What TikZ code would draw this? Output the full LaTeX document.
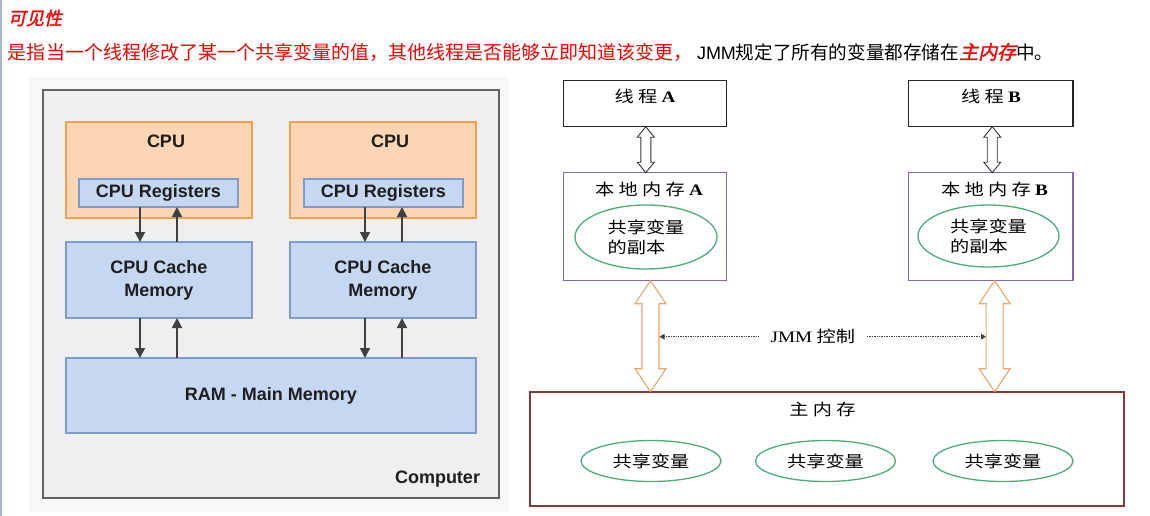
\documentclass[tikz,border=0pt]{standalone}
\usepackage{fontspec}
\setmainfont{Liberation Sans}
\newfontfamily\cjk{Noto Sans CJK SC}
\newfontfamily\cjkbi[FakeSlant=0.22,FakeBold=1.5]{Noto Sans CJK SC}
\newfontfamily\cjkw[FakeStretch=1.2]{Noto Sans CJK SC}
\newfontfamily\tnrw[FakeStretch=1.2]{Liberation Serif}
\usetikzlibrary{arrows.meta,calc,shapes.geometric}
\definecolor{cpuFill}{HTML}{FCD5B4}
\definecolor{cpuDraw}{HTML}{F2A24E}
\definecolor{memFill}{HTML}{C6D8F1}
\definecolor{memDraw}{HTML}{7C9BD0}
\definecolor{compFill}{HTML}{EFEFF1}
\definecolor{compDraw}{HTML}{626262}
\definecolor{imgBg}{HTML}{F8F8F9}
\definecolor{arrowGray}{HTML}{404040}
\definecolor{lblText}{HTML}{1E1E1E}
\definecolor{localDraw}{HTML}{8468A6}
\definecolor{ellDraw}{HTML}{4AAE78}
\definecolor{mainDraw}{HTML}{8E3636}
\definecolor{fatOrange}{HTML}{F0A468}
\definecolor{leftLine}{HTML}{A8B6CA}
\newcommand\lbfont{\fontsize{18}{21}\selectfont\bfseries}
\newcommand\cjkfont{\cjkw\fontsize{16}{20}\selectfont}
\newcommand\redfont{\cjk\fontsize{19}{22}\selectfont}
\newcommand\blkfont{\cjk\fontsize{18.6}{22}\selectfont}
\newcommand{\fatvarrow}[6]{%
  \draw[#6] let \p1=(#1), \p2=(#2) in
    (\x1,\y1) -- (\x1+#4,\y1-#5) -- (\x1+#3,\y1-#5) -- (\x1+#3,\y2+#5)
    -- (\x1+#4,\y2+#5) -- (\x1,\y2) -- (\x1-#4,\y2+#5) -- (\x1-#3,\y2+#5)
    -- (\x1-#3,\y1-#5) -- (\x1-#4,\y1-#5) -- cycle;}
\begin{document}
\begin{tikzpicture}[x=1pt,y=-1pt,
  every node/.style={inner sep=0pt, outer sep=0pt},
  cpubox/.style={draw=cpuDraw, fill=cpuFill, line width=2pt, minimum width=186pt, minimum height=96pt},
  membox/.style={draw=memDraw, fill=memFill, line width=1.6pt},
  lbl/.style={font=\lbfont, text=lblText, align=center},
  garrow/.style={draw=arrowGray, line width=1.8pt, -{Triangle[width=10pt,length=10pt]}},
  thbox/.style={draw=black!85, line width=1.2pt, minimum width=163pt, minimum height=46pt},
  locbox/.style={draw=localDraw, line width=1.2pt, minimum width=163pt, minimum height=108pt},
  greenell/.style={ellipse, draw=ellDraw, line width=1.3pt},
  cjklbl/.style={font=\cjkfont, text=black},
  fatblack/.style={draw=black!80, line width=0.9pt, fill=white, line join=miter},
  fatorange/.style={draw=fatOrange, line width=1.1pt, fill=white},
  dotarrow/.style={draw=black!75, line width=1.1pt, dash pattern=on 0.9pt off 0.8pt, -{Triangle[width=5.5pt,length=5pt]}},
]
\fill[white] (0,0) rectangle (1150,516);
\useasboundingbox (0,0) rectangle (1150,516);
\draw[color=leftLine, line width=1.5pt] (0.75,0) -- (0.75,516);

% header
\node[anchor=west, font=\fontsize{18}{22}\selectfont, text=red] (title) at (8,18) {\cjkbi 可见性};
\node[anchor=west] (desc) at (8,52) {{\redfont\color{red}是指当一个线程修改了某一个共享变量的值，其他线程是否能够立即知道该变更，}\hspace{5pt}{\fontsize{18}{22}\selectfont JMM}{\blkfont 规定了所有的变量都存储在}{\cjkbi\fontsize{19}{22}\selectfont\color{red}主内存}{\blkfont 中。}};

% left diagram
\fill[imgBg] (29,77) rectangle (509,512);
\node[draw=compDraw, fill=compFill, line width=2.2pt, minimum width=456pt, minimum height=408pt] (comp) at (271,294) {};
\node[cpubox] (cpu1) at (159,170) {};
\node[cpubox] (cpu2) at (383,170) {};
\node[lbl] (cpu1lbl) at (166,141) {CPU};
\node[lbl] (cpu2lbl) at (390,141) {CPU};
\node[membox, minimum width=159pt, minimum height=28pt, lbl] (reg1) at (158.5,193) {CPU Registers};
\node[membox, minimum width=159pt, minimum height=28pt, lbl] (reg2) at (383.5,193) {CPU Registers};
\node[membox, minimum width=186pt, minimum height=76pt, lbl, font=\fontsize{18}{23}\selectfont\bfseries] (cache1) at (159,280) {CPU Cache\\Memory};
\node[membox, minimum width=186pt, minimum height=76pt, lbl, font=\fontsize{18}{23}\selectfont\bfseries] (cache2) at (383,280) {CPU Cache\\Memory};
\node[membox, minimum width=410pt, minimum height=75pt, lbl] (ram) at (271,395.5) {RAM - Main Memory};
\node[lbl, anchor=east] (complbl) at (480,479) {Computer};

\draw[garrow] ($(reg1.south)+(-18.5,0)$) -- ($(cache1.north)+(-19,0)$);
\draw[garrow] ($(cache1.north)+(18,0)$) -- ($(reg1.south)+(18.5,0)$);
\draw[garrow] ($(reg2.south)+(-18.5,0)$) -- ($(cache2.north)+(-18,0)$);
\draw[garrow] ($(cache2.north)+(19,0)$) -- ($(reg2.south)+(18.5,0)$);
\draw[garrow] ($(cache1.south)+(-19,0)$) -- ($(ram.north)+(-131,0)$);
\draw[garrow] ($(ram.north)+(-94,0)$) -- ($(cache1.south)+(18,0)$);
\draw[garrow] ($(cache2.south)+(-18,0)$) -- ($(ram.north)+(94,0)$);
\draw[garrow] ($(ram.north)+(131,0)$) -- ($(cache2.south)+(19,0)$);

% right diagram
\node[thbox] (tA) at (644.8,103.7) {};
\node[thbox, minimum width=164.5pt] (tB) at (990.75,103.7) {};
\node[cjklbl] (tAlbl) at (645,96) {线 程 {\tnrw\bfseries A}};
\node[cjklbl] (tBlbl) at (991,96) {线 程 {\tnrw\bfseries B}};
\node[locbox] (lA) at (644.8,226.7) {};
\node[locbox, minimum width=164.5pt] (lB) at (990.75,226.7) {};
\node[cjklbl] (lAlbl) at (649,189) {本 地 内 存 {\tnrw\bfseries A}};
\node[cjklbl] (lBlbl) at (994.6,189) {本 地 内 存 {\tnrw\bfseries B}};
\node[greenell, minimum width=142pt, minimum height=64pt, cjklbl, align=left] (eA) at (646,237) {共享变量\\的副本};
\node[greenell, minimum width=141pt, minimum height=62pt, cjklbl, align=left] (eB) at (988.5,236) {共享变量\\的副本};

\node[draw=mainDraw, line width=1.8pt, minimum width=594pt, minimum height=114pt] (mm) at (827,448.7) {};
\node[cjklbl] (mmlbl) at (822.5,409) {主 内 存};
\node[greenell, minimum width=140pt, minimum height=41pt, cjklbl] (e1) at (651,461) {共享变量};
\node[greenell, minimum width=140pt, minimum height=41pt, cjklbl] (e2) at (825.5,461) {共享变量};
\node[greenell, minimum width=140pt, minimum height=41pt, cjklbl] (e3) at (1003,461) {共享变量};

\fatvarrow{$(tA.south)+(1,0)$}{lA.north}{5pt}{8.5pt}{10.5pt}{fatblack}
\fatvarrow{$(tB.south)+(1.5,0)$}{lB.north}{5pt}{8.5pt}{10.5pt}{fatblack}
\fatvarrow{$(lA.south)+(5.7,0)$}{mm.north}{8.5pt}{15.5pt}{23pt}{fatorange}
\fatvarrow{$(lB.south)+(3.9,0)$}{mm.north}{8.5pt}{15.5pt}{23pt}{fatorange}

\node[cjklbl] (jmm) at (812.8,336.7) {{\tnrw JMM} 控制};
\coordinate (dA) at (659.5,336.7);
\coordinate (dB) at (986,336.7);
\draw[dotarrow] ($(jmm.west)+(-12,0)$) -- (dA);
\draw[dotarrow] ($(jmm.east)+(12,0)$) -- (dB);
\end{tikzpicture}
\end{document}
